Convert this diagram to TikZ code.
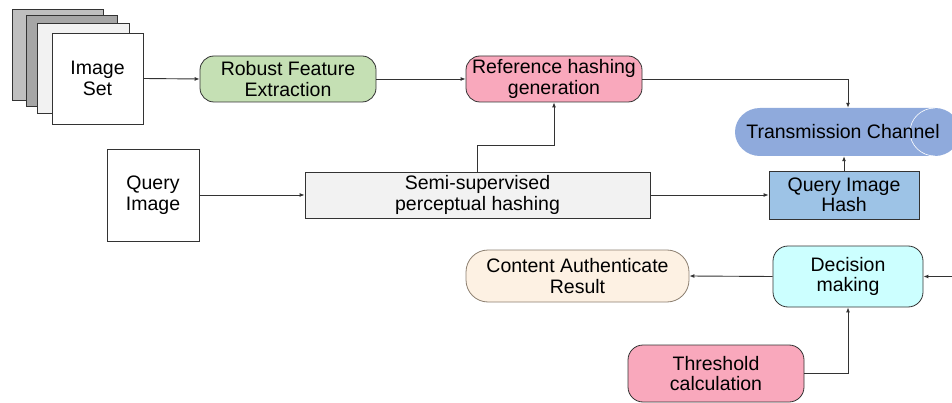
\documentclass[tikz,border=0pt]{standalone}
\usepackage{fontspec}
\setmainfont{Liberation Sans}
\usetikzlibrary{arrows.meta}
\definecolor{sheetA}{HTML}{BFBFBF}
\definecolor{sheetB}{HTML}{A6A6A6}
\definecolor{sheetC}{HTML}{F2F2F2}
\definecolor{greenbox}{HTML}{C5E0B4}
\definecolor{pinkbox}{HTML}{F9A8BC}
\definecolor{transcol}{HTML}{8FAADC}
\definecolor{hashcol}{HTML}{9DC3E6}
\definecolor{semicol}{HTML}{F2F2F2}
\definecolor{deccol}{HTML}{CCFFFF}
\definecolor{contcol}{HTML}{FDF1E3}
\definecolor{contline}{HTML}{8C7F70}
\definecolor{linecol}{HTML}{333333}
\begin{document}
\begin{tikzpicture}[x=1pt,y=-1pt,
  box/.style={draw=linecol, line width=0.8pt, align=center, inner sep=0pt,
    font=\fontsize{19.5}{20.5}\selectfont},
  sheet/.style={draw=linecol, line width=0.7pt},
  conn/.style={draw=linecol, line width=0.9pt, -{Latex[length=5pt,width=4pt]}},
  plainline/.style={draw=linecol, line width=0.9pt}]
\useasboundingbox (0,0) rectangle (952,403);
\clip (0,0) rectangle (952,403);

% image stack
\path[sheet, fill=sheetA] (12,9) rectangle (103,100);
\path[sheet, fill=sheetB] (26,15) rectangle (117,106);
\path[sheet, fill=sheetC] (37,23) rectangle (129,113);
\node[box, fill=white, minimum width=91pt, minimum height=91pt] (imgset) at (97.5,78.5) {Image\\Set};

% top row
\node[box, fill=greenbox, rounded corners=14pt, minimum width=176pt, minimum height=46pt] (robust) at (288,79) {Robust Feature\\Extraction};
\node[box, fill=pinkbox, rounded corners=14pt, minimum width=176pt, minimum height=46pt] (ref) at (554,79) {Reference hashing\\generation};

% transmission channel (horizontal cylinder)
\path[fill=transcol] (760,108) -- (935,108)
  arc[start angle=-90, end angle=90, x radius=25, y radius=24]
  -- (760,156)
  arc[start angle=90, end angle=270, x radius=25, y radius=24] -- cycle;
\draw[white, line width=0.6pt] (935,108) arc[start angle=-90, end angle=-270, x radius=25, y radius=24];
\node[inner sep=0pt, minimum width=200pt, minimum height=48pt] (trans) at (848,132) {};
\node[font=\fontsize{19.5}{20.5}\selectfont, inner sep=0pt] (transtext) at (843,132) {Transmission Channel};

% middle row
\node[box, fill=white, minimum width=92pt, minimum height=92pt] (query) at (153,195) {Query\\Image};
\node[box, fill=semicol, minimum width=345pt, minimum height=46pt] (semi) at (477.5,195) {Semi-supervised\\perceptual hashing};
\node[box, fill=hashcol, minimum width=150pt, minimum height=48pt] (hash) at (844,195) {Query Image\\Hash};

% bottom rows
\node[box, fill=deccol, rounded corners=15pt, minimum width=150pt, minimum height=61pt] (dec) at (848,276.5) {Decision\\making};
\node[box, draw=contline, fill=contcol, rounded corners=22pt, minimum width=223pt, minimum height=52pt] (cont) at (577.5,276) {Content Authenticate\\Result};
\node[box, fill=pinkbox, rounded corners=15pt, minimum width=176pt, minimum height=57pt] (thr) at (716,373.5) {Threshold\\calculation};
\coordinate (rin) at (953,276.5);

% connectors
\draw[conn] (imgset.east) -- (robust.west);
\draw[conn] (robust.east) -- (ref.west);
\draw[conn] (ref.east) -| (trans.north);
\draw[conn] (query.east) -- (semi.west);
\draw[conn] (semi.east) -- (hash.west);
\draw[conn] (hash.north) -- (hash.north |- trans.south);
\draw[conn] (semi.north) -- ++(0,-26) -| (ref.south);
\draw[conn] (dec.west) -- (cont.east);
\draw[conn] (rin) -- (dec.east);
\draw[conn] (thr.east) -| (dec.south);
\end{tikzpicture}
\end{document}
